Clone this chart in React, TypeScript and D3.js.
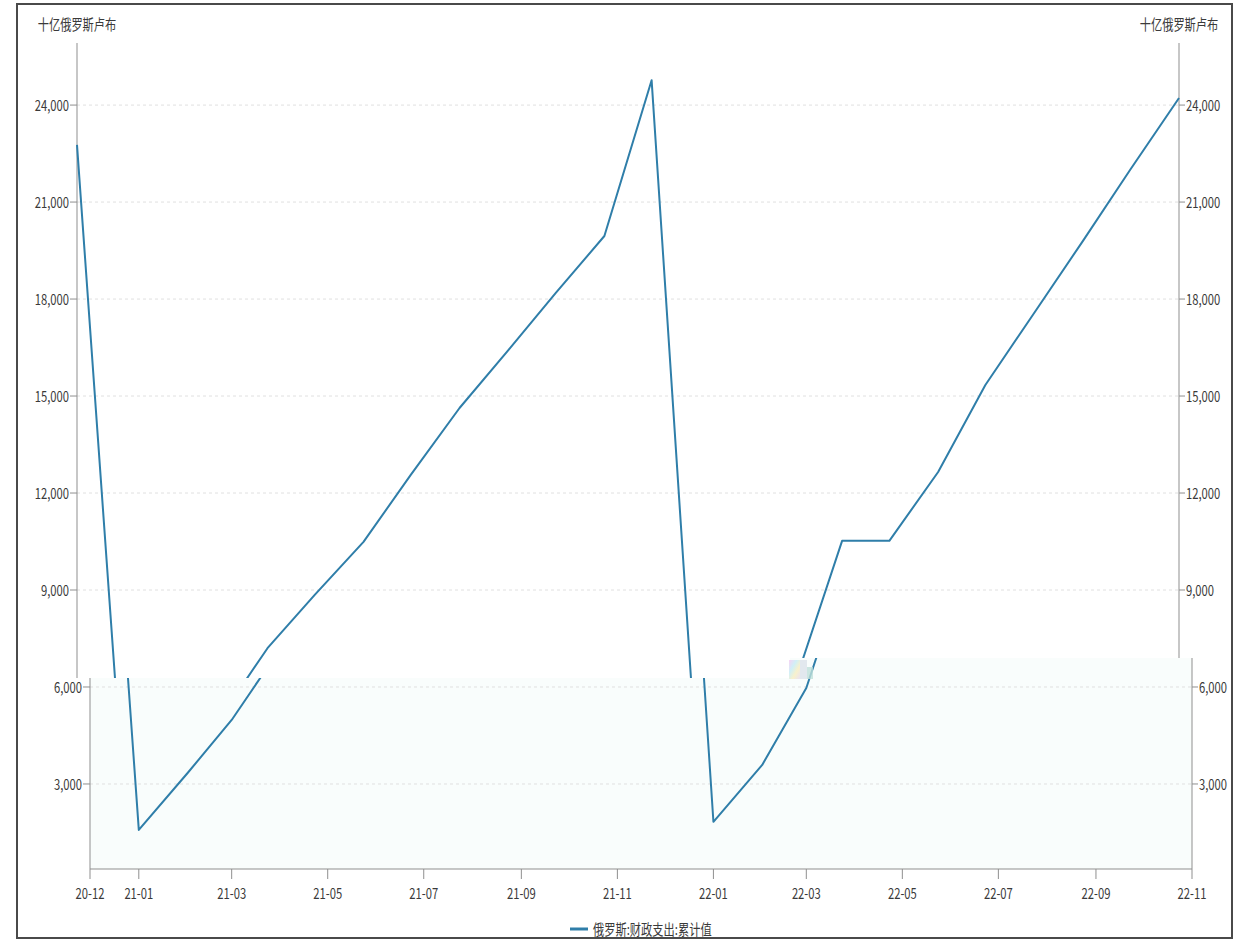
import React from "react";
import * as d3 from "d3";

const months = [
  "2020-12", "2021-01", "2021-02", "2021-03", "2021-04", "2021-05", "2021-06", "2021-07",
  "2021-08", "2021-09", "2021-10", "2021-11", "2021-12", "2022-01", "2022-02", "2022-03",
  "2022-04", "2022-05", "2022-06", "2022-07", "2022-08", "2022-09", "2022-10", "2022-11",
];
const spending = [
  22770, 1580, 3340, 4980, 7200, 8850, 10490, 12560,
  14630, 16420, 18180, 19950, 24770, 1830, 3590, 5970,
  10520, 10520, 12650, 15340, 17570, 19800, 22000, 24220,
];
const yTicks = [3000, 6000, 9000, 12000, 15000, 18000, 21000, 24000];
const xTicks = [
  "2020-12", "2021-01", "2021-03", "2021-05", "2021-07", "2021-09", "2021-11",
  "2022-01", "2022-03", "2022-05", "2022-07", "2022-09", "2022-11",
];
const unitLabel = "十亿俄罗斯卢布";
const seriesName = "俄罗斯:财政支出:累计值";

const W = 1242;
const H = 941;
const LINE = "#2f7ea9";
const AXIS = "#8f8f8f";
const GRID = "#e0e0e0";
const TXT = "#3a3a3a";
const FONT = "'Noto Sans CJK SC', 'Noto Sans', sans-serif";

const parse = d3.timeParse("%Y-%m");
const fmtX = d3.timeFormat("%y-%m");
const fmtY = d3.format(",");

function T({ x, y, anchor = "middle", size = 15, children }) {
  return (
    <text
      transform={`translate(${x},${y}) scale(0.75,1)`}
      textAnchor={anchor}
      dominantBaseline="central"
      fontSize={size}
      fontFamily={FONT}
      fill={TXT}
    >
      {children}
    </text>
  );
}

function Layer({ dx, tinted, upper }) {
  const x = d3
    .scaleTime()
    .domain([parse(months[0]), parse(months[months.length - 1])])
    .range([90 + dx, 1192 + dx]);
  const y = d3.scaleLinear().domain([370, 25920]).range([869, 43]);
  const [x0, x1] = x.range();
  const [yb, yt] = y.range();
  const data = months.map((m, i) => ({ d: parse(m), v: spending[i] }));
  const line = d3
    .line<any>()
    .x((p) => x(p.d))
    .y((p) => y(p.v));
  const labelTicks = yTicks.filter((t) => (upper ? t >= 9000 : t <= 6000));

  return (
    <g>
      {tinted && <rect x={x0} y={yt} width={x1 - x0} height={yb - yt} fill="#f9fdfc" />}
      {yTicks.map((t) => (
        <line key={"g" + t} x1={x0} x2={x1} y1={y(t)} y2={y(t)} stroke={GRID} strokeDasharray="3,3" />
      ))}
      <line x1={x0} x2={x0} y1={yt} y2={yb} stroke={AXIS} />
      <line x1={x1} x2={x1} y1={yt} y2={yb} stroke={AXIS} />
      <line x1={x0} x2={x1} y1={yb} y2={yb} stroke={AXIS} />
      {labelTicks.map((t) => (
        <g key={"l" + t}>
          <line x1={x0 - 7} x2={x0} y1={y(t)} y2={y(t)} stroke={AXIS} />
          <T x={x0 - 8} y={y(t)} anchor="end">{fmtY(t)}</T>
          <line x1={x1} x2={x1 + 6} y1={y(t)} y2={y(t)} stroke={AXIS} />
          <T x={x1 + 7} y={y(t)} anchor="start">{fmtY(t)}</T>
        </g>
      ))}
      {!upper &&
        xTicks.map((m) => {
          const px = x(parse(m));
          return (
            <g key={"x" + m}>
              <line x1={px} x2={px} y1={yb} y2={yb + 10} stroke={AXIS} />
              <T x={px} y={yb + 24}>{fmtX(parse(m))}</T>
            </g>
          );
        })}
      {upper && <T x={x0} y={24}>{unitLabel}</T>}
      {upper && <T x={x1} y={24}>{unitLabel}</T>}
      <path d={line(data) || ""} fill="none" stroke={LINE} strokeWidth={2} strokeLinejoin="round" />
      {!upper && (
        <g>
          <line x1={570 + dx} x2={588 + dx} y1={929} y2={929} stroke={LINE} strokeWidth={3} />
          <T x={593 + dx} y={929} anchor="start">{seriesName}</T>
        </g>
      )}
    </g>
  );
}

export default function App() {
  return (
    <svg
      width={W}
      height={H}
      style={{ position: "absolute", left: 0, top: 0, background: "#fff" }}
    >
      <defs>
        <clipPath id="clipTop">
          <path d="M0,0H1242V658H790V678H0Z" />
        </clipPath>
        <clipPath id="clipBottom">
          <path d="M0,678H790V658H1242V941H0Z" />
        </clipPath>
        <linearGradient id="glitch" x1="0" x2="1" y1="0" y2="1">
          <stop offset="0" stopColor="#f6c8f2" />
          <stop offset="0.35" stopColor="#c6ecf6" />
          <stop offset="0.65" stopColor="#f8eec0" />
          <stop offset="1" stopColor="#e6dcf0" />
        </linearGradient>
      </defs>
      <rect x={0} y={0} width={W} height={H} fill="#fff" />
      <g clipPath="url(#clipTop)">
        <Layer dx={-13} tinted={false} upper={true} />
      </g>
      <g clipPath="url(#clipBottom)">
        <Layer dx={0} tinted={true} upper={false} />
      </g>
      <rect x={789} y={660} width={11} height={19} fill="url(#glitch)" opacity={0.8} />
      <rect x={800} y={660} width={7} height={19} fill="#dfe5ec" opacity={0.9} />
      <rect x={807} y={667} width={6} height={12} fill="#bfe0da" opacity={0.8} />
      <rect x={17} y={4} width={1215} height={934} fill="none" stroke="#4a4a4a" strokeWidth={2} />
    </svg>
  );
}
